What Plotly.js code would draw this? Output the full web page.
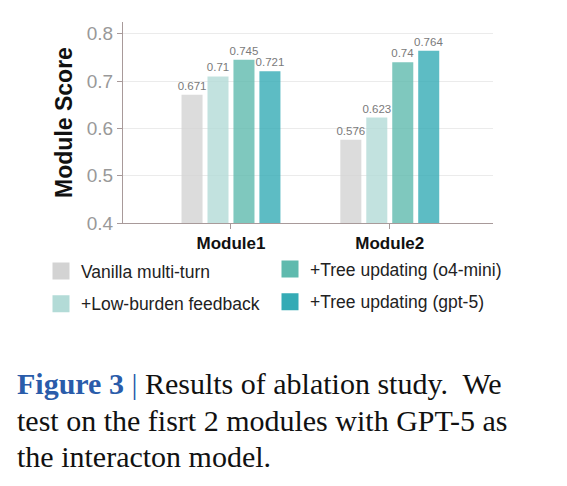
<!DOCTYPE html>
<html>
<head>
<meta charset="utf-8">
<script src="https://cdn.plot.ly/plotly-3.0.1.min.js"></script>
<style>html,body{margin:0;padding:0;background:#fff;}#chart{width:567px;height:486px;}</style>
</head>
<body>
<div id="chart"></div>
<script>
const categories = ['Module1', 'Module2'];
const seriesNames = ['Vanilla multi-turn', '+Low-burden feedback', '+Tree updating (o4-mini)', '+Tree updating (gpt-5)'];
const vanilla = [0.671, 0.576];
const lowBurden = [0.71, 0.623];
const treeO4mini = [0.745, 0.74];
const treeGpt5 = [0.721, 0.764];
const seriesValues = [vanilla, lowBurden, treeO4mini, treeGpt5];
const seriesColors = ['#d3d3d3', '#b3dbd7', '#5fbaae', '#35abb5'];
const seriesLegend = ['legend', 'legend', 'legend2', 'legend2'];
const yTickVals = [0.4, 0.5, 0.6, 0.7, 0.8];
const yTickText = ['0.4', '0.5', '0.6', '0.7', '0.8'];

const font = 'Liberation Sans, Arial, sans-serif';
const serif = 'Liberation Serif, Times New Roman, serif';

const traces = [];
seriesNames.forEach((name, i) => {
  traces.push({
    type: 'bar', x: categories, y: seriesValues[i], name: name,
    showlegend: false,
    marker: {color: seriesColors[i], opacity: 0.8, line: {width: 0}},
    texttemplate: '%{y}', textposition: 'outside', cliponaxis: false,
    constraintext: 'none',
    textfont: {family: font, size: 11.5, color: '#7a7a7a'},
    hoverinfo: 'x+y+name'
  });
});
// legend-only entries (large swatches)
seriesNames.forEach((name, i) => {
  traces.push({
    type: 'bar', x: categories, y: [null, null], name: name,
    xaxis: 'x2', yaxis: 'y2',
    legend: seriesLegend[i], legendgroup: 'g' + i,
    showlegend: true,
    marker: {color: seriesColors[i], line: {width: 14, color: seriesColors[i]}},
    hoverinfo: 'skip'
  });
});

const W = 567, H = 486, L = 123, R = 74, T = 22, B = 263;
const pw = W - L - R, ph = H - T - B;
const px = v => (v - L) / pw;
const py = v => (H - B - v) / ph;

const layout = {
  width: W, height: H,
  margin: {l: L, r: R, t: T, b: B},
  paper_bgcolor: '#ffffff', plot_bgcolor: '#ffffff',
  font: {family: font, color: '#222'},
  barmode: 'group', bargap: 0.346, bargroupgap: 0.19,
  showlegend: true,
  xaxis: {
    type: 'category', range: [-0.68, 1.65],
    showline: true, linecolor: '#a89a9a', linewidth: 1,
    ticks: 'outside', ticklen: 5, tickcolor: '#a89a9a',
    showgrid: false, zeroline: false,
    tickfont: {family: font, size: 17, color: '#111', weight: 'bold'}
  },
  yaxis: {
    range: [0.4, 0.825],
    tickvals: yTickVals, ticktext: yTickText,
    showline: true, linecolor: '#a89a9a', linewidth: 1,
    ticks: 'outside', ticklen: 5, tickcolor: '#a89a9a',
    showgrid: true, gridcolor: '#ebebeb', gridwidth: 1, zeroline: false,
    tickfont: {family: font, size: 19, color: '#999999'},
    title: {text: '<b>Module Score</b>', font: {family: font, size: 23, color: '#111'}, standoff: 7}
  },
  xaxis2: {overlaying: 'x', anchor: 'y2', visible: false},
  yaxis2: {overlaying: 'y', anchor: 'x2', visible: false},
  legend: {
    x: px(41), y: py(253), xanchor: 'left', yanchor: 'top',
    bgcolor: 'rgba(0,0,0,0)', borderwidth: 0, tracegroupgap: 7,
    font: {family: font, size: 17.5, color: '#222'}, itemclick: false
  },
  legend2: {
    x: px(270), y: py(251), xanchor: 'left', yanchor: 'top',
    bgcolor: 'rgba(0,0,0,0)', borderwidth: 0, tracegroupgap: 7,
    font: {family: font, size: 17.5, color: '#222'}, itemclick: false
  },
  annotations: [
    {xref: 'paper', yref: 'paper', x: px(15), y: py(383), xanchor: 'left', yanchor: 'middle', showarrow: false,
     text: '<b><span style="color:#2a5caa">Figure 3</span></b> <span style="color:#2a5caa">|</span> Results of ablation study.  We',
     font: {family: serif, size: 30, color: '#111'}},
    {xref: 'paper', yref: 'paper', x: px(15), y: py(420), xanchor: 'left', yanchor: 'middle', showarrow: false,
     text: 'test on the fisrt 2 modules with GPT-5 as',
     font: {family: serif, size: 30, color: '#111'}},
    {xref: 'paper', yref: 'paper', x: px(15), y: py(456), xanchor: 'left', yanchor: 'middle', showarrow: false,
     text: 'the interacton model.',
     font: {family: serif, size: 30, color: '#111'}}
  ]
};

Plotly.newPlot('chart', traces, layout, {staticPlot: true, displayModeBar: false});
</script>
</body>
</html>
